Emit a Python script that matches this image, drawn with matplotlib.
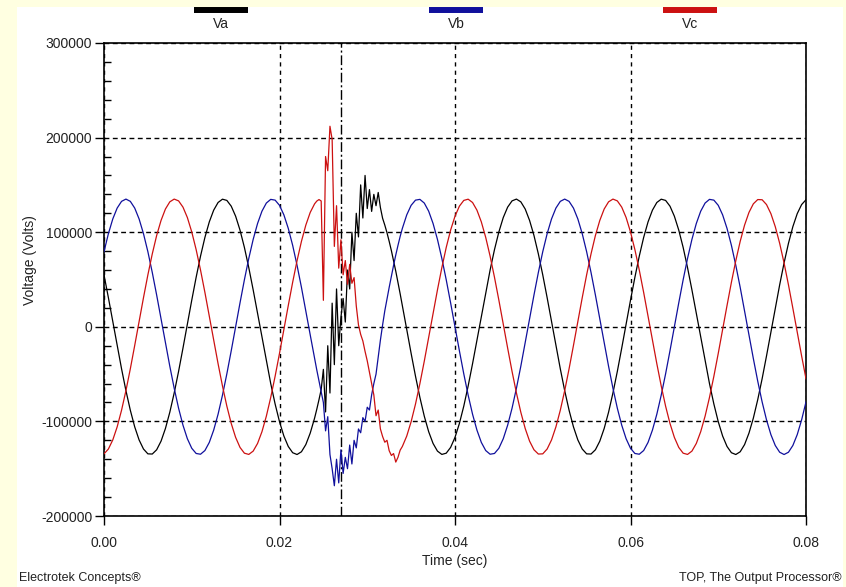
import numpy as np
import matplotlib
matplotlib.use("Agg")
import matplotlib.pyplot as plt
from matplotlib.lines import Line2D
from matplotlib.patches import Rectangle
from matplotlib.ticker import MultipleLocator, FormatStrFormatter, StrMethodFormatter

plt.rcParams['font.family'] = ['Liberation Sans', 'DejaVu Sans']
plt.rcParams['axes.unicode_minus'] = False

# sample times (ms): 0.5 ms steps, 0.25 ms steps through the fault transient
t_ms = np.concatenate([np.arange(0, 24, 0.5), np.arange(24.0, 34.01, 0.25), np.arange(34.5, 80.01, 0.5)])

va = [
    # 0 .. 23.5 ms
    54900, 30800, 5700, -19700, -44400, -67500, -88200, -105800, -119600, -129200,
    -134300, -134500, -130000, -120900, -107500, -90300, -69900, -47100, -22500, 2800,
    28100, 52300, 74700, 94500, 110900, 123300, 131400, 134900, 133600, 127500,
    116900, 102200, 83900, 62500, 39000, 14100, -11300, -36300, -60000, -81600,
    -100300, -115500, -126500, -133100, -135000, -132100, -124500, -112400,
    # 24.0 .. 34.0 ms (fault transient)
    -96500, -87100, -77000, -66300, -45000, -90000, -20000, -70000, 25000, -40000,
    40000, -20000, 10000, 30000, 5000, 60000, 40000, 100000, 70000, 120000,
    95000, 150000, 115000, 160000, 125000, 145000, 122000, 140000, 128000, 142000,
    126000, 114700, 107500, 99400, 90300, 80500, 69900, 58800, 47100, 34900,
    22500,
    # 34.5 .. 80 ms
    -2800, -28100, -52300, -74700, -94500, -110900, -123300, -131400, -134900, -133600,
    -127500, -116900, -102200, -83900, -62500, -39000, -14100, 11300, 36300, 60000,
    81600, 100300, 115500, 126500, 133100, 135000, 132100, 124500, 112400, 96500,
    77000,
    54900, 30800, 5700, -19700, -44400, -67500, -88200, -105800, -119600, -129200,
    -134300, -134500, -130000, -120900, -107500, -90300, -69900, -47100, -22500, 2800,
    28100, 52300, 74700, 94500, 110900, 123300, 131400, 134900, 133600, 127500,
    116900, 102200, 83900, 62500, 39000, 14100, -11300, -36300, -60000, -81600,
    -100300, -115500, -126500, -133100, -135000, -132100, -124500, -112400, -96500, -77000,
    -54900, -30800, -5700, 19700, 44400, 67500, 88200, 105800, 119600, 129200,
    134300,
]

vb = [
    # 0 .. 23.5 ms
    79400, 98400, 114000, 125500, 132600, 135000, 132600, 125500, 114000, 98400,
    79400, 57500, 33600, 8500, -16900, -41700, -65000, -86100, -104000, -118300,
    -128400, -133900, -134700, -130800, -122200, -109200, -92400, -72300, -49700, -25300,
    0, 25300, 49700, 72300, 92400, 109200, 122200, 130800, 134700, 133900,
    128400, 118300, 104000, 86100, 65000, 41700, 16900, -8500,
    # 24.0 .. 34.0 ms (fault transient)
    -33600, -45700, -57500, -68700, -80000, -110000, -95000, -135000, -150000, -168000,
    -140000, -165000, -130000, -155000, -138000, -150000, -125000, -145000, -120000, -128000,
    -108000, -112000, -96000, -100000, -85000, -88000, -72000, -60000, -50000, -32000,
    -14000, 2000, 16900, 29400, 41700, 53600, 65000, 75900, 86000, 95500,
    104000,
    # 34.5 .. 80 ms
    118300, 128400, 133900, 134700, 130800, 122200, 109200, 92400, 72300, 49700,
    25300, 0, -25300, -49700, -72300, -92400, -109200, -122200, -130800, -134700,
    -133900, -128400, -118300, -104000, -86100, -65000, -41700, -16900, 8500, 33600,
    57500,
    79400, 98400, 114000, 125500, 132600, 135000, 132600, 125500, 114000, 98400,
    79400, 57500, 33600, 8500, -16900, -41700, -65000, -86100, -104000, -118300,
    -128400, -133900, -134700, -130800, -122200, -109200, -92400, -72300, -49700, -25300,
    0, 25300, 49700, 72300, 92400, 109200, 122200, 130800, 134700, 133900,
    128400, 118300, 104000, 86100, 65000, 41700, 16900, -8500, -33600, -57500,
    -79400, -98400, -114000, -125500, -132600, -135000, -132600, -125500, -114000, -98400,
    -79400,
]

vc = [
    # 0 .. 23.5 ms
    -134300, -129200, -119600, -105800, -88200, -67500, -44400, -19700, 5700, 30800,
    54900, 77000, 96500, 112400, 124500, 132100, 135000, 133100, 126500, 115500,
    100300, 81600, 60000, 36300, 11300, -14100, -39000, -62500, -83900, -102200,
    -116900, -127500, -133600, -134900, -131400, -123300, -110900, -94500, -74700, -52300,
    -28100, -2800, 22500, 47100, 69900, 90300, 107500, 120900,
    # 24.0 .. 34.0 ms (fault transient)
    130000, 132900, 134500, 133000, 28000, 180000, 165000, 212000, 198000, 85000,
    128000, 62000, 92000, 55000, 70000, 45000, 66000, 46000, 52000, 22000,
    2000, -8000, -15000, -26000, -36000, -48000, -60000, -72000, -94000, -88000,
    -108000, -116000, -122000, -120000, -131000, -136000, -134000, -143000, -138000, -130400,
    -126500,
    # 34.5 .. 80 ms
    -115500, -100300, -81600, -60000, -36300, -11300, 14100, 39000, 62500, 83900,
    102200, 116900, 127500, 133600, 134900, 131400, 123300, 110900, 94500, 74700,
    52300, 28100, 2800, -22500, -47100, -69900, -90300, -107500, -120900, -130000,
    -134500,
    -134300, -129200, -119600, -105800, -88200, -67500, -44400, -19700, 5700, 30800,
    54900, 77000, 96500, 112400, 124500, 132100, 135000, 133100, 126500, 115500,
    100300, 81600, 60000, 36300, 11300, -14100, -39000, -62500, -83900, -102200,
    -116900, -127500, -133600, -134900, -131400, -123300, -110900, -94500, -74700, -52300,
    -28100, -2800, 22500, 47100, 69900, 90300, 107500, 120900, 130000, 134500,
    134300, 129200, 119600, 105800, 88200, 67500, 44400, 19700, -5700, -30800,
    -54900,
]

series_names = ["Va", "Vb", "Vc"]
series_colors = ["#000000", "#10109c", "#cc1111"]
fault_t = 0.0270

t = t_ms / 1000.0

fig = plt.figure(figsize=(8.46, 5.87), dpi=100, facecolor="#FFFFE1")
fig.add_artist(Rectangle((17 / 846, 0), 826 / 846, 1 - 7.3 / 587,
                         transform=fig.transFigure, facecolor="white",
                         edgecolor="none", zorder=0))

ax = fig.add_axes([104 / 846, 1 - 516 / 587, 702 / 846, 473 / 587])
for vals, col in zip([va, vb, vc], series_colors):
    ax.plot(t, vals, color=col, lw=0.9, zorder=3)

ax.set_xlim(0, 0.08)
ax.set_ylim(-200000, 300000)
ax.xaxis.set_major_locator(MultipleLocator(0.02))
ax.xaxis.set_major_formatter(FormatStrFormatter('%.2f'))
ax.yaxis.set_major_locator(MultipleLocator(100000))
ax.yaxis.set_minor_locator(MultipleLocator(20000))
ax.yaxis.set_major_formatter(StrMethodFormatter('{x:.0f}'))

ax.tick_params(axis='y', which='major', direction='out', length=6.5, width=1,
               pad=2, labelsize=10, labelcolor='#222222')
ax.tick_params(axis='y', which='minor', direction='in', length=5, width=1)
ax.tick_params(axis='x', which='major', direction='out', length=6.5, width=1,
               pad=8, labelsize=10, labelcolor='#222222')

ax.grid(axis='y', which='major', color='black', lw=1, linestyle=(0, (3.5, 2.5)), zorder=1)
ax.grid(axis='x', which='major', color='black', lw=1, linestyle=(0, (3, 3)), zorder=1)
ax.axvline(fault_t, color='black', lw=1, linestyle=(0, (7, 2, 1.5, 2)), zorder=2)

for sp in ax.spines.values():
    sp.set_linewidth(1.2)

fig.text(29.5 / 846, 1 - 260 / 587, "Voltage (Volts)", rotation=90,
         ha='center', va='center', fontsize=10, color='#222222')
fig.text(455 / 846, 1 - 561 / 587, "Time (sec)", ha='center', va='center',
         fontsize=10, color='#222222')
fig.text(19 / 846, 1 - 578 / 587, "Electrotek Concepts®", ha='left', va='center',
         fontsize=9, color='#222222')
fig.text(842 / 846, 1 - 578 / 587, "TOP, The Output Processor®", ha='right', va='center',
         fontsize=9, color='#222222')

# legend strip above the plot
key_centers = [221, 456, 690]
for name, col, xc in zip(series_names, series_colors, key_centers):
    fig.add_artist(Line2D([(xc - 27) / 846, (xc + 27) / 846], [1 - 10 / 587, 1 - 10 / 587],
                          transform=fig.transFigure, color=col, lw=4.3,
                          solid_capstyle='butt'))
    fig.text(xc / 846, 1 - 24 / 587, name, ha='center', va='center',
             fontsize=10, color='#222222')

fig.savefig("out.png", dpi=100, facecolor=fig.get_facecolor())
